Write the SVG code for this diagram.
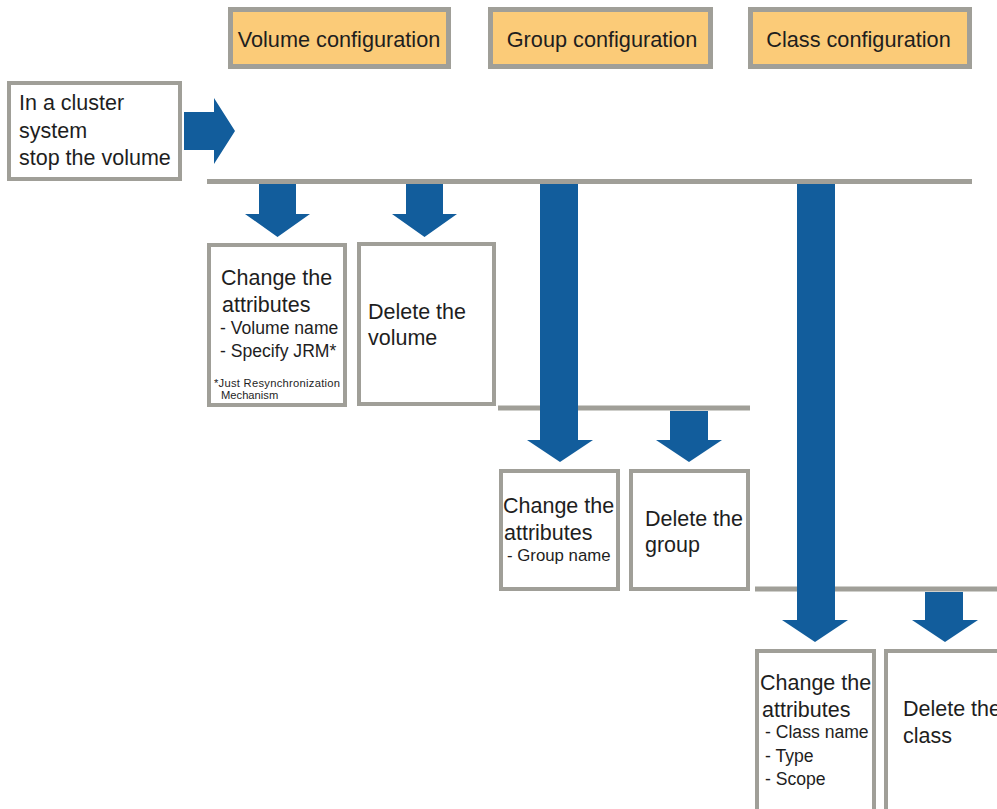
<svg xmlns="http://www.w3.org/2000/svg" width="997" height="809" viewBox="0 0 997 809">
<style>
text{font-family:"Liberation Sans",Arial,sans-serif;fill:#1e1e1e}
.hdr{fill:#fbcb78;stroke:#a09f98;stroke-width:5}
.box{fill:#fff;stroke:#a09f98;stroke-width:4}
.ln{stroke:#a09f98;stroke-width:5;fill:none}
.arr{fill:#125d9c}
.t21{font-size:21.5px}
.t20{font-size:21.7px}
.t17{font-size:17.6px}
.t15{font-size:16.8px}
.t11{font-size:11.2px}
</style>
<g id="connectors">
<line class="ln" x1="207" y1="181.5" x2="972" y2="181.5"/>
<line class="ln" x1="498" y1="408" x2="750" y2="408"/>
<line class="ln" x1="755" y1="589" x2="997" y2="589"/>
<polygon class="arr" points="184,112 214,112 214,98 235,131 214,164 214,150 184,150"/>
<polygon class="arr" points="259,184 296,184 296,214 310,214 277.5,237 245,214 259,214"/>
<polygon class="arr" points="406,184 443,184 443,214 457,214 424.5,237 392,214 406,214"/>
<polygon class="arr" points="540,184 578,184 578,440 593,440 560,462 527,440 540,440"/>
<polygon class="arr" points="670,411 708,411 708,440 722,440 689,462 656,440 670,440"/>
<polygon class="arr" points="797,184 835,184 835,620 848,620 815,642 782,620 797,620"/>
<polygon class="arr" points="925,592 963,592 963,620 978,620 945,642 912,620 925,620"/>
</g>
<g id="hdr-volume">
<rect class="hdr" x="230.5" y="9.5" width="218" height="57"/>
<text class="t20" x="339" y="47" text-anchor="middle">Volume configuration</text>
</g>
<g id="hdr-group">
<rect class="hdr" x="490.5" y="9.5" width="220" height="57"/>
<text class="t20" x="602" y="47" text-anchor="middle">Group configuration</text>
</g>
<g id="hdr-class">
<rect class="hdr" x="750.5" y="9.5" width="219" height="57"/>
<text class="t20" x="858.5" y="47" text-anchor="middle">Class configuration</text>
</g>
<g id="stop-volume">
<rect class="box" x="9" y="83" width="171" height="96"/>
<text class="t21" x="19" y="110">In a cluster</text>
<text class="t21" x="19" y="137.5">system</text>
<text class="t21" x="19" y="165">stop the volume</text>
</g>
<g id="volume-change">
<rect class="box" x="209" y="245" width="136" height="160"/>
<text class="t21" x="221" y="285">Change the</text>
<text class="t21" x="222" y="312">attributes</text>
<text class="t17" x="220" y="334">- Volume name</text>
<text class="t17" x="220" y="357">- Specify JRM*</text>
<text class="t11" x="214" y="386.5" textLength="126" lengthAdjust="spacing">*Just Resynchronization</text>
<text class="t11" x="221" y="399">Mechanism</text>
</g>
<g id="volume-delete">
<rect class="box" x="359" y="244" width="135" height="160"/>
<text class="t21" x="368" y="319">Delete the</text>
<text class="t21" x="368" y="345">volume</text>
</g>
<g id="group-change">
<rect class="box" x="501" y="471" width="117" height="118"/>
<text class="t21" x="503" y="513">Change the</text>
<text class="t21" x="504" y="540">attributes</text>
<text class="t15" x="507" y="561">- Group name</text>
</g>
<g id="group-delete">
<rect class="box" x="631" y="471" width="117" height="118"/>
<text class="t21" x="645" y="526">Delete the</text>
<text class="t21" x="645" y="552">group</text>
</g>
<g id="class-change">
<rect class="box" x="757" y="651" width="117" height="200"/>
<text class="t21" x="760" y="690">Change the</text>
<text class="t21" x="762" y="717">attributes</text>
<text class="t17" x="765" y="738">- Class name</text>
<text class="t17" x="765" y="762">- Type</text>
<text class="t17" x="765" y="785">- Scope</text>
</g>
<g id="class-delete">
<rect class="box" x="886" y="651" width="130" height="200"/>
<text class="t21" x="903" y="716">Delete the</text>
<text class="t21" x="903" y="743">class</text>
</g>
</svg>
